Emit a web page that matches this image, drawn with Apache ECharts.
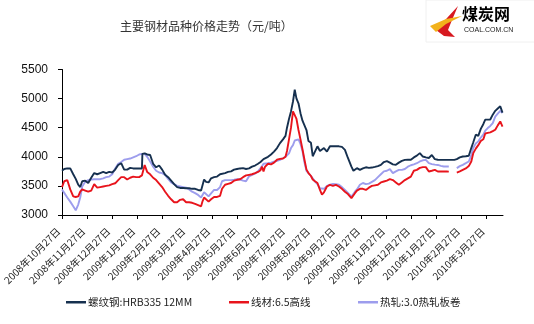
<!DOCTYPE html>
<html>
<head>
<meta charset="utf-8">
<script src="https://cdn.jsdelivr.net/npm/echarts@6/dist/echarts.min.js"></script>
<style>
html,body{margin:0;padding:0;background:#fff;}
#c{width:534px;height:324px;}
</style>
</head>
<body>
<div id="c"></div>
<script>
// month labels for the axis ticks (one per month, starting 2008-10-27)
var tickLabels = ['2008年10月27日','2008年11月27日','2008年12月27日','2009年1月27日','2009年2月27日','2009年3月27日','2009年4月27日','2009年5月27日','2009年6月27日','2009年7月27日','2009年8月27日','2009年9月27日','2009年10月27日','2009年11月27日','2009年12月27日','2010年1月27日','2010年2月27日','2010年3月27日'];

// time of each observation, in months after 2008-10-27
var t = [0,0.09,0.21,0.33,0.45,0.55,0.65,0.73,0.81,0.93,1.05,1.17,1.29,1.41,1.53,1.65,1.77,1.89,2.01,2.13,2.25,2.37,2.49,2.61,2.73,2.85,2.97,3.09,3.2,3.22,3.31,3.41,3.53,3.65,3.77,3.89,4.01,4.13,4.25,4.37,4.49,4.61,4.73,4.85,4.97,5.09,5.21,5.33,5.45,5.57,5.63,5.69,5.77,5.87,5.97,6.09,6.21,6.33,6.41,6.53,6.65,6.77,6.89,7.01,7.13,7.25,7.37,7.49,7.61,7.73,7.85,7.95,8.01,8.07,8.13,8.25,8.37,8.49,8.61,8.73,8.85,8.95,9.01,9.09,9.17,9.25,9.32,9.39,9.47,9.55,9.63,9.71,9.79,9.87,9.97,10.04,10.13,10.23,10.33,10.41,10.49,10.61,10.73,10.85,10.97,11.09,11.21,11.33,11.45,11.59,11.67,11.73,11.81,11.93,12.05,12.17,12.29,12.41,12.53,12.65,12.77,12.89,13.01,13.13,13.25,13.37,13.49,13.61,13.73,13.85,13.97,14.09,14.21,14.33,14.45,14.57,14.69,14.81,14.93,15.05,15.17,15.29,15.41,15.49,15.59,15.71,15.81,15.93,16.05,16.17,16.29,16.39,16.47,16.57,16.67,16.77,16.87,16.95,17.05,17.15,17.25,17.35,17.45,17.55,17.64];

// 螺纹钢:HRB335 12MM
var rebar = [3760,3790,3800,3800,3700,3620,3520,3480,3580,3590,3550,3640,3720,3700,3720,3740,3720,3740,3730,3780,3860,3890,3780,3780,3810,3800,3800,3800,3800,4050,4060,4040,4030,3880,3820,3850,3780,3690,3650,3590,3530,3480,3465,3465,3460,3460,3450,3450,3430,3420,3420,3610,3570,3560,3630,3650,3660,3700,3700,3720,3740,3750,3780,3790,3800,3805,3790,3800,3830,3850,3880,3910,3930,3960,3980,4000,4040,4090,4150,4235,4300,4360,4500,4650,4780,4950,5155,5000,4920,4750,4620,4540,4460,4270,4240,4010,4090,4180,4100,4130,4150,4090,4180,4180,4180,4180,4170,4120,3980,3830,3760,3745,3805,3775,3800,3820,3810,3815,3826,3840,3862,3910,3925,3900,3870,3862,3900,3930,3948,3950,3950,3990,4020,4063,4005,3990,3980,4030,3960,3950,3948,3948,3948,3948,3948,3948,3960,3990,4005,4010,4017,4150,4250,4380,4360,4480,4560,4638,4638,4640,4724,4790,4830,4867,4760];

// 线材:6.5高线
var wire = [3480,3580,3600,3440,3320,3310,3320,3400,3440,3420,3400,3420,3530,3470,3480,3490,3500,3510,3530,3545,3600,3650,3650,3610,3640,3660,3650,3650,3680,3700,3860,3740,3700,3640,3600,3540,3480,3400,3330,3270,3220,3220,3260,3270,3220,3220,3210,3190,3170,3150,3240,3300,3320,3230,3270,3310,3310,3330,3450,3520,3535,3550,3590,3605,3615,3650,3680,3690,3700,3718,3740,3770,3830,3750,3830,3880,3870,3900,3950,3965,3970,4000,4100,4300,4500,4780,4800,4650,4460,4300,4130,3950,3780,3720,3670,3610,3580,3550,3430,3350,3390,3490,3517,3500,3517,3490,3450,3400,3360,3290,3320,3375,3420,3450,3450,3430,3470,3500,3510,3520,3560,3575,3590,3615,3600,3560,3520,3560,3600,3630,3660,3760,3775,3810,3822,3822,3747,3760,3775,3747,3747,3747,3747,3745,null,null,3730,3750,3775,3800,3840,3920,4063,4140,4200,4270,4300,4400,4410,4420,4440,4465,4540,4608,4520];

// 热轧:3.0热轧板卷
var hotRolled = [3440,3380,3300,3230,3150,3080,3180,3300,3490,3570,3600,3610,3615,3615,3615,3630,3650,3660,3700,3800,3880,3910,3950,3960,3970,3990,4010,4040,4050,4050,4050,4000,3920,3830,3760,3730,3720,3690,3620,3560,3530,3500,3490,3480,3470,3440,3400,3375,3345,3300,3330,3390,3400,3320,3370,3430,3430,3480,3580,3600,3600,3600,3605,3615,3610,3590,3580,3665,3690,3710,3750,3805,3840,3880,3885,3890,3900,3915,3930,3948,3975,4000,4010,4060,4150,4200,4280,4305,4300,4220,4100,3900,3760,3720,3670,3630,3575,3530,3460,3445,3450,3500,3520,3534,3530,3520,3480,3430,3380,3316,3340,3400,3440,3520,3550,3530,3540,3570,3600,3650,3700,3750,3760,3787,3720,3750,3775,3775,3790,3830,3855,3870,3890,3920,3940,3948,3890,3875,3865,3860,3845,3833,3833,3833,null,null,3805,3840,3862,3890,3919,4030,4150,4230,4265,4330,4380,4450,4494,4530,4580,4690,4740,4790,4753];

var seriesNames = ['螺纹钢:HRB335 12MM','线材:6.5高线','热轧:3.0热轧板卷'];
var seriesColors = ['#16304f','#e8141c','#9d9ded'];
var yTicks = [3000,3500,4000,4500,5000,5500];

function pairs(vals){ return t.map(function(x,i){ return [x, vals[i]]; }); }
var allVals = [rebar, wire, hotRolled];
var monthIdx = tickLabels.map(function(_, i){ return i; });

var chart = echarts.init(document.getElementById('c'), null, {renderer:'canvas'});
var cjk = '"Noto Sans CJK SC", "Liberation Sans", sans-serif';

chart.setOption({
  animation: false,
  backgroundColor: '#fff',
  textStyle: {fontFamily: cjk},
  grid: {left: 62, right: 31, top: 69.5, bottom: 109, containLabel: false},
  xAxis: {
    type: 'value', min: 0, max: 17.66, interval: 1,
    splitLine: {show: false},
    axisLine: {lineStyle: {color: '#000', width: 1}},
    axisTick: {show: true, length: 4, customValues: monthIdx, lineStyle: {color: '#000'}},
    axisLabel: {
      customValues: monthIdx,
      rotate: 45, margin: 18, fontSize: 10, color: '#222', verticalAlign: 'bottom',
      formatter: function(v){ var i = Math.round(v); return tickLabels[i] || ''; }
    }
  },
  yAxis: {
    type: 'value', min: yTicks[0], max: yTicks[yTicks.length-1], interval: 500,
    splitLine: {show: false},
    axisLine: {show: true, lineStyle: {color: '#000', width: 1}},
    axisTick: {show: true, length: 4, lineStyle: {color: '#000'}},
    axisLabel: {fontSize: 12, color: '#111', margin: 14, fontFamily: '"Liberation Sans", Arial, sans-serif',
      formatter: function(v){ return String(v); }}
  },
  legend: [0,1,2].map(function(i){
    return {
      data: [seriesNames[i]], left: [61, 224, 353][i], top: 292,
      icon: 'rect', itemWidth: 20, itemHeight: 2.5, itemGap: 4,
      textStyle: {fontSize: 10.5, color: '#222', fontFamily: cjk, padding: [0,0,0,-3]}
    };
  }),
  series: allVals.map(function(vals, i){
    return {
      name: seriesNames[i], type: 'line', data: pairs(vals),
      showSymbol: false, symbol: 'none', connectNulls: false,
      lineStyle: {color: seriesColors[i], width: 1.9},
      itemStyle: {color: seriesColors[i]},
      z: 3 - i
    };
  }),
  graphic: [
    {type: 'text', left: 120, top: 20, style: {text: '主要钢材品种价格走势（元/吨）', fontSize: 12, fill: '#333', fontFamily: cjk}},
    {type: 'rect', shape: {x: 426, y: 0, width: 110, height: 42}, style: {fill: '#fff', stroke: '#f0f0f0', lineWidth: 1}},
    {type: 'polygon', shape: {points: [[458,6],[436,30],[444,36],[455,37],[448,30],[452,20]]}, style: {fill: '#d71920'}},
    {type: 'polygon', shape: {points: [[430,26],[446,19],[462,16],[446,24],[436,32]]}, style: {fill: '#f2b21c'}},
    {type: 'text', x: 462, y: 6, z: 10, style: {text: '煤炭网', fontSize: 16, fontWeight: 'bold', fill: '#000000', fontFamily: cjk}},
    {type: 'text', x: 464, y: 27, z: 10, style: {text: 'COAL.COM.CN', fontSize: 7, fill: '#222', fontFamily: '"Liberation Sans", sans-serif'}}
  ]
});
</script>
</body>
</html>
